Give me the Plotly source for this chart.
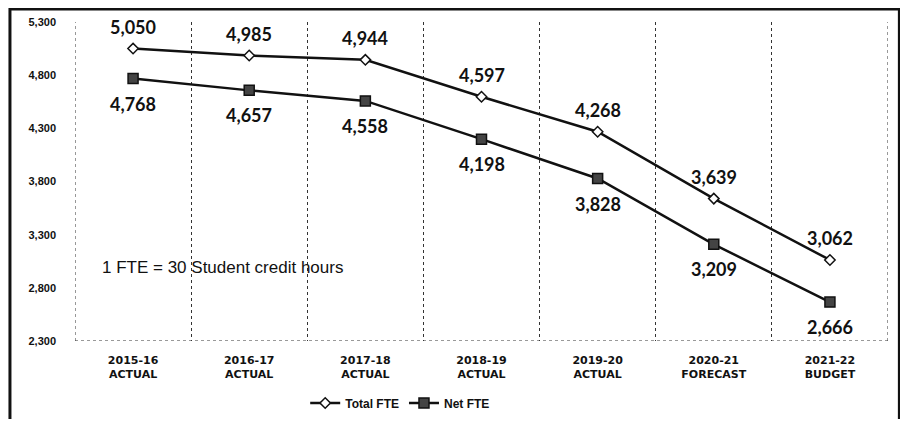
import plotly.graph_objects as go

categories = ["2015-16<br>ACTUAL", "2016-17<br>ACTUAL", "2017-18<br>ACTUAL", "2018-19<br>ACTUAL",
              "2019-20<br>ACTUAL", "2020-21<br>FORECAST", "2021-22<br>BUDGET"]
total_fte = [5050, 4985, 4944, 4597, 4268, 3639, 3062]
net_fte = [4768, 4657, 4558, 4198, 3828, 3209, 2666]
y_ticks = [2300, 2800, 3300, 3800, 4300, 4800, 5300]

label_font = dict(family="Lato, Open Sans, sans-serif", size=18, color="#111")

fig = go.Figure()
fig.add_trace(go.Scatter(
    x=categories, y=total_fte, name="<b>Total FTE</b>", mode="lines+markers",
    line=dict(color="#111", width=2.5),
    marker=dict(symbol="diamond", size=8, color="white", line=dict(color="#111", width=1.5)),
))
fig.add_trace(go.Scatter(
    x=categories, y=net_fte, name="<b>Net FTE</b>", mode="lines+markers",
    line=dict(color="#111", width=2.5),
    marker=dict(symbol="square", size=10, color="#444", line=dict(color="#111", width=1.5)),
))

for c, v in zip(categories, total_fte):
    fig.add_annotation(x=c, y=v, text=f"<b>{v:,}</b>", showarrow=False, yshift=22,
                       yanchor="middle", font=label_font)
for c, v in zip(categories, net_fte):
    fig.add_annotation(x=c, y=v, text=f"<b>{v:,}</b>", showarrow=False, yshift=-25,
                       yanchor="middle", font=label_font)

fig.add_annotation(
    text="1 FTE = 30 Student credit hours", xref="paper", yref="y",
    x=0.031, y=2990, xanchor="left", yanchor="middle", showarrow=False,
    font=dict(family="Liberation Sans, Arial, sans-serif", size=17, color="#111"),
)

# outer frame
fig.add_shape(type="rect", xref="paper", yref="paper",
              x0=-0.080, x1=1.014, y0=-0.35, y1=1.041,
              line=dict(color="#111", width=3), layer="above")

# edge gridlines
for xv in (-0.5, 6.5):
    fig.add_shape(type="line", xref="x", yref="paper", x0=xv, x1=xv, y0=0, y1=1,
                  line=dict(color="#333", width=1, dash="dot"))

# dotted baseline
fig.add_shape(type="line", xref="paper", yref="y", x0=0, x1=1, y0=2300, y1=2300,
              line=dict(color="#333", width=1, dash="dot"))

fig.update_layout(
    width=900, height=411,
    margin=dict(l=67, r=20, t=14, b=78, autoexpand=False),
    paper_bgcolor="white", plot_bgcolor="white",
    showlegend=True,
    legend=dict(orientation="h", x=0.40, y=0.039, yref="container",
                xanchor="center", yanchor="middle",
                font=dict(family="Liberation Sans Narrow, Liberation Sans, sans-serif", size=12, color="#111"),
                itemwidth=30, tracegroupgap=0),
    font=dict(family="Liberation Sans, Arial, sans-serif", color="#111"),
)
fig.update_xaxes(
    type="category", range=[-0.5, 6.5],
    tickmode="array", tickvals=categories,
    ticktext=[f"<b>{c}</b>" for c in categories],
    tickfont=dict(family="DejaVu Sans, sans-serif", size=11, color="#111"),
    tickson="boundaries", showgrid=True, gridcolor="#333", griddash="dot", gridwidth=1,
    showline=False, ticks="", zeroline=False, ticklabelstandoff=11,
)
fig.update_yaxes(
    range=[2300, 5300], tickvals=y_ticks,
    ticktext=[f"<b>{v:,}</b>" for v in y_ticks],
    tickfont=dict(family="Liberation Sans, Arial, sans-serif", size=11, color="#111"),
    showgrid=False, zeroline=False, showline=False, ticks="", ticklabelstandoff=18,
)

fig.write_html("out.html")
